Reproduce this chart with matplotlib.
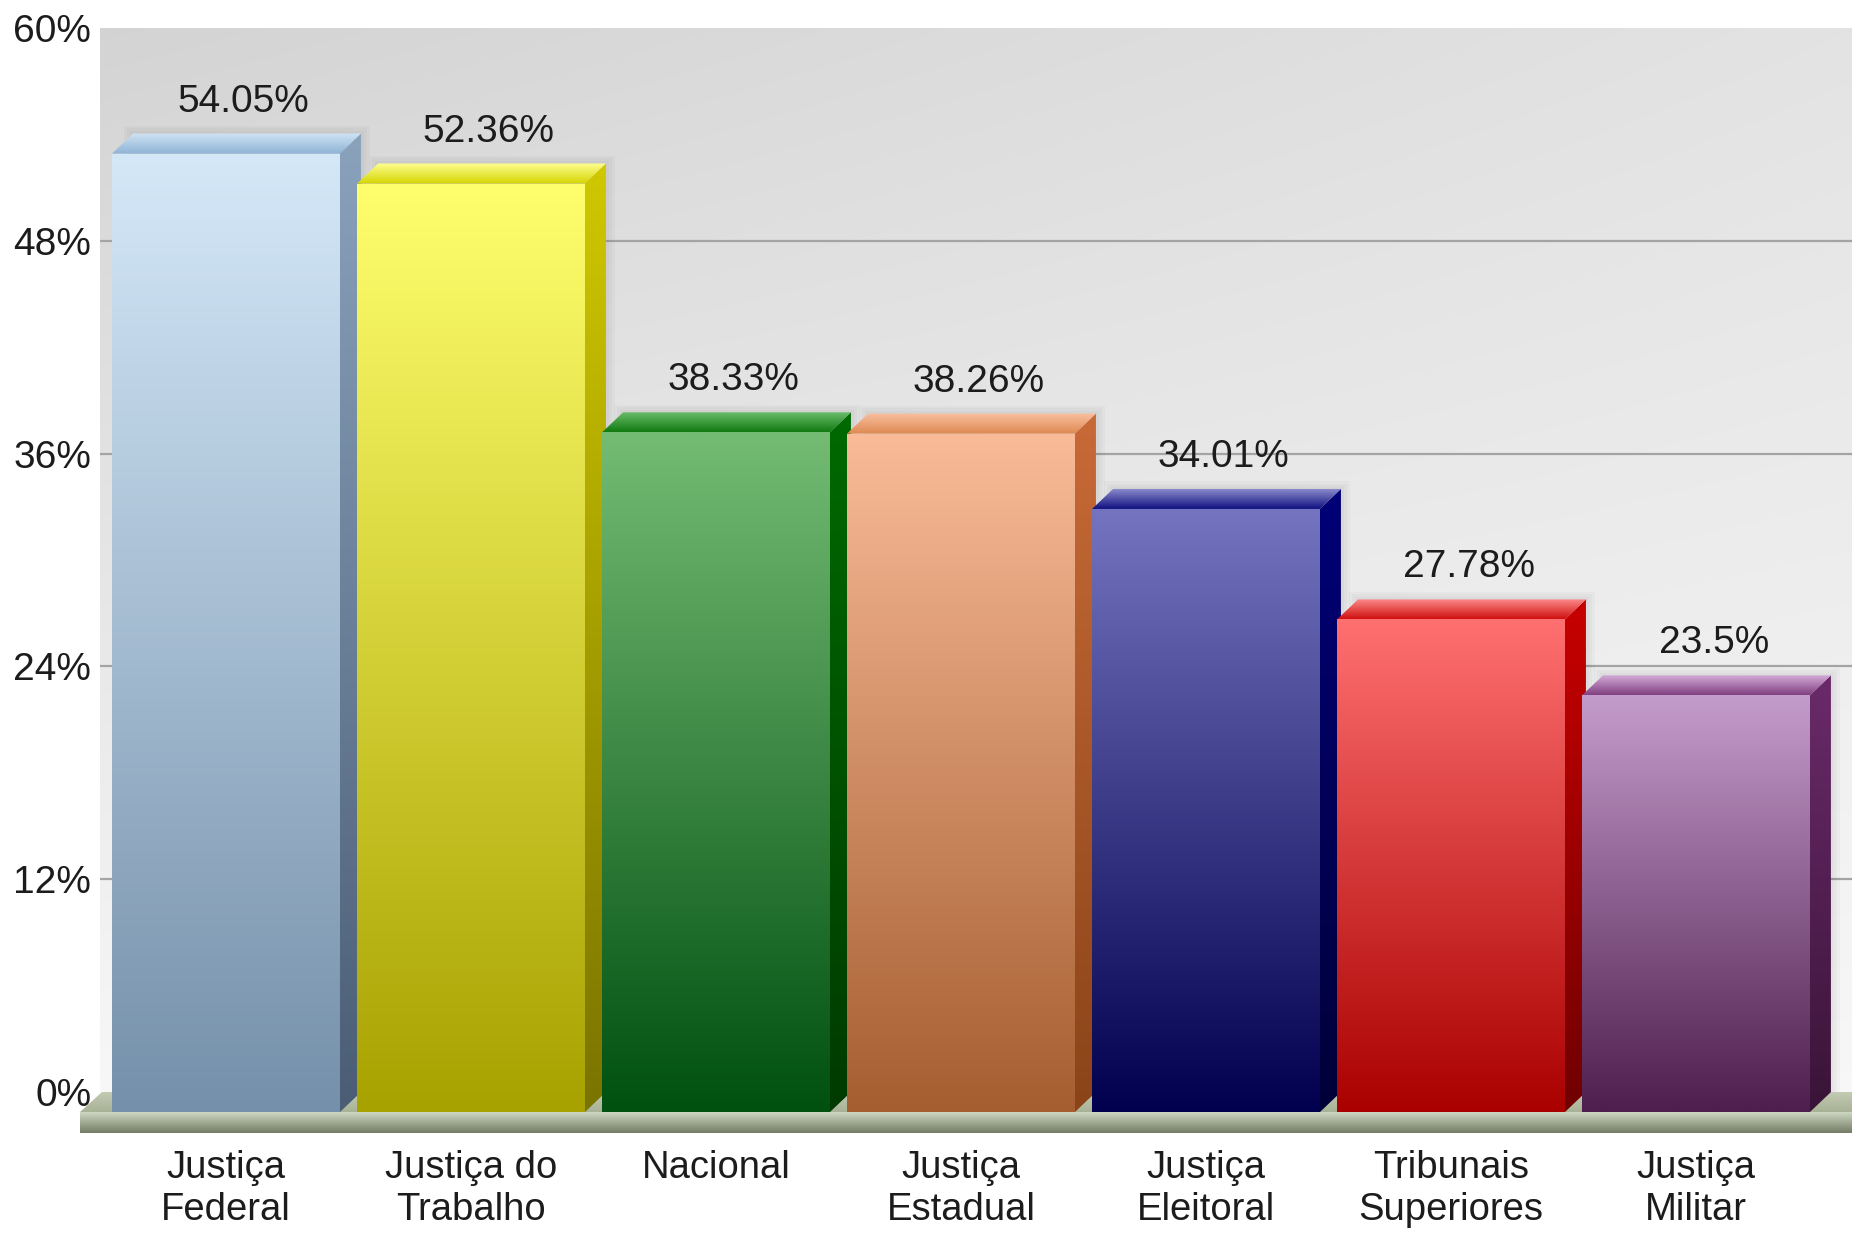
import numpy as np
import matplotlib
matplotlib.use("Agg")
import matplotlib.pyplot as plt
from matplotlib.patches import Polygon
from matplotlib.colors import to_rgb

plt.rcParams['font.family'] = ['Liberation Sans', 'DejaVu Sans']

categories = ["Justiça\nFederal", "Justiça do\nTrabalho", "Nacional", "Justiça\nEstadual",
              "Justiça\nEleitoral", "Tribunais\nSuperiores", "Justiça\nMilitar"]
values = [54.05, 52.36, 38.33, 38.26, 34.01, 27.78, 23.5]
value_labels = ["54.05%", "52.36%", "38.33%", "38.26%", "34.01%", "27.78%", "23.5%"]
yticks = [0, 12, 24, 36, 48, 60]
ytick_labels = ["0%", "12%", "24%", "36%", "48%", "60%"]

# colours: front face (top, bottom), side face (top, bottom), top face (back, front)
front_top = ['#d4e8f8', '#ffff6e', '#74bc74', '#f9bb98', '#7474c0', '#ff7070', '#c49ccb']
front_bot = ['#7590aa', '#a8a200', '#005010', '#a55e30', '#00004e', '#aa0000', '#4e1e4e']
side_top = ['#8aa2bc', '#d0c800', '#006a00', '#c86a38', '#000078', '#c80000', '#6a2a6a']
side_bot = ['#4a5d75', '#7a7400', '#003a00', '#8a4418', '#000038', '#700000', '#3a1438']
topf_back = ['#d0e4f4', '#ffff90', '#70c070', '#f8c0a0', '#9090d0', '#ff9090', '#d8b0dc']
topf_front = ['#8eb2d6', '#d4d400', '#107a10', '#e08850', '#101080', '#d01010', '#804080']

W = 0.93      # bar width (category units)
DX = 0.086    # depth in x
DY = 1.13     # depth in y (percent units)


def grad_fill(ax, verts, c_hi, c_lo, z):
    poly = Polygon(verts, closed=True, facecolor='none', edgecolor='none')
    ax.add_patch(poly)
    xs = [p[0] for p in verts]
    ys = [p[1] for p in verts]
    c1 = np.array(to_rgb(c_hi))
    c2 = np.array(to_rgb(c_lo))
    t = np.linspace(0, 1, 256)[:, None]
    img = (c1 * (1 - t) + c2 * t)[:, None, :]
    im = ax.imshow(img, extent=[min(xs), max(xs), min(ys), max(ys)], origin='upper',
                   aspect='auto', zorder=z, interpolation='bilinear')
    im.set_clip_path(poly)


fig = plt.figure(figsize=(18.52, 12.34), dpi=100)
ax = fig.add_axes([0.0421, 0.0791, 0.9579, 0.8982])
xmin, xmax = -0.604, 6.637
ymin, ymax = -2.5, 60

# back wall with soft diagonal gradient
wall_left = -0.514
ny, nx = 200, 200
yy, xx = np.mgrid[0:1:ny * 1j, 0:1:nx * 1j]
shade = 0.83 + 0.14 * yy + 0.06 * xx * (1 - yy)
shade = np.clip(shade, 0, 0.975)
wall = np.dstack([shade, shade, shade])
ax.imshow(wall, extent=[wall_left, xmax, 0, 60], origin='upper', aspect='auto',
          zorder=0, interpolation='bilinear')

# grid lines on the wall
ax.hlines([12, 24, 36, 48], wall_left, xmax, colors='#a4a4a4', linewidth=1.6, zorder=1)

# floor
floor_h = 1.2
grad_fill(ax, [(xmin + 0.01, -DY), (xmax, -DY), (xmax, 0), (wall_left + 0.01, 0)],
          '#c4ccb4', '#a8b296', 2)
grad_fill(ax, [(xmin + 0.01, -DY), (xmax, -DY), (xmax, -DY - floor_h), (xmin + 0.01, -DY - floor_h)],
          '#d2dcc6', '#737b64', 2)

# bars
for i, v in enumerate(values):
    x0 = i - W / 2
    x1 = i + W / 2
    z = 3 + i * 0.1
    # soft glow/shadow on the wall, a few faint layers
    for k, grow in enumerate([0.012, 0.024, 0.036]):
        ax.add_patch(Polygon([(x0 + DX - grow, v + grow * 12), (x1 + DX + grow, v + grow * 12),
                              (x1 + DX + grow, 0), (x0 + DX - grow, 0)],
                             closed=True, facecolor='#000000', alpha=0.025, edgecolor='none',
                             zorder=z))
    grad_fill(ax, [(x1, -DY), (x1 + DX, 0), (x1 + DX, v), (x1, v - DY)],
              side_top[i], side_bot[i], z + 0.01)
    grad_fill(ax, [(x0, v - DY), (x1, v - DY), (x1 + DX, v), (x0 + DX, v)],
              topf_back[i], topf_front[i], z + 0.02)
    grad_fill(ax, [(x0, -DY), (x1, -DY), (x1, v - DY), (x0, v - DY)],
              front_top[i], front_bot[i], z + 0.03)
    ax.text(i + 0.073, v + 1.8, value_labels[i], ha='center', va='center',
            fontsize=28, color='#1c1c1c', zorder=10)

ax.set_xlim(xmin, xmax)
ax.set_ylim(ymin, ymax)
ax.set_xticks(range(len(categories)))
ax.set_xticklabels(categories, fontsize=27.5, color='#1c1c1c', linespacing=1.22, va='top')
ax.set_yticks(yticks)
ax.set_yticklabels(ytick_labels, fontsize=28, color='#1c1c1c')
ax.tick_params(axis='x', length=0, pad=10)
ax.tick_params(axis='y', length=0, pad=-9.5)
for s in ax.spines.values():
    s.set_visible(False)

fig.savefig('out.png', dpi=100)
